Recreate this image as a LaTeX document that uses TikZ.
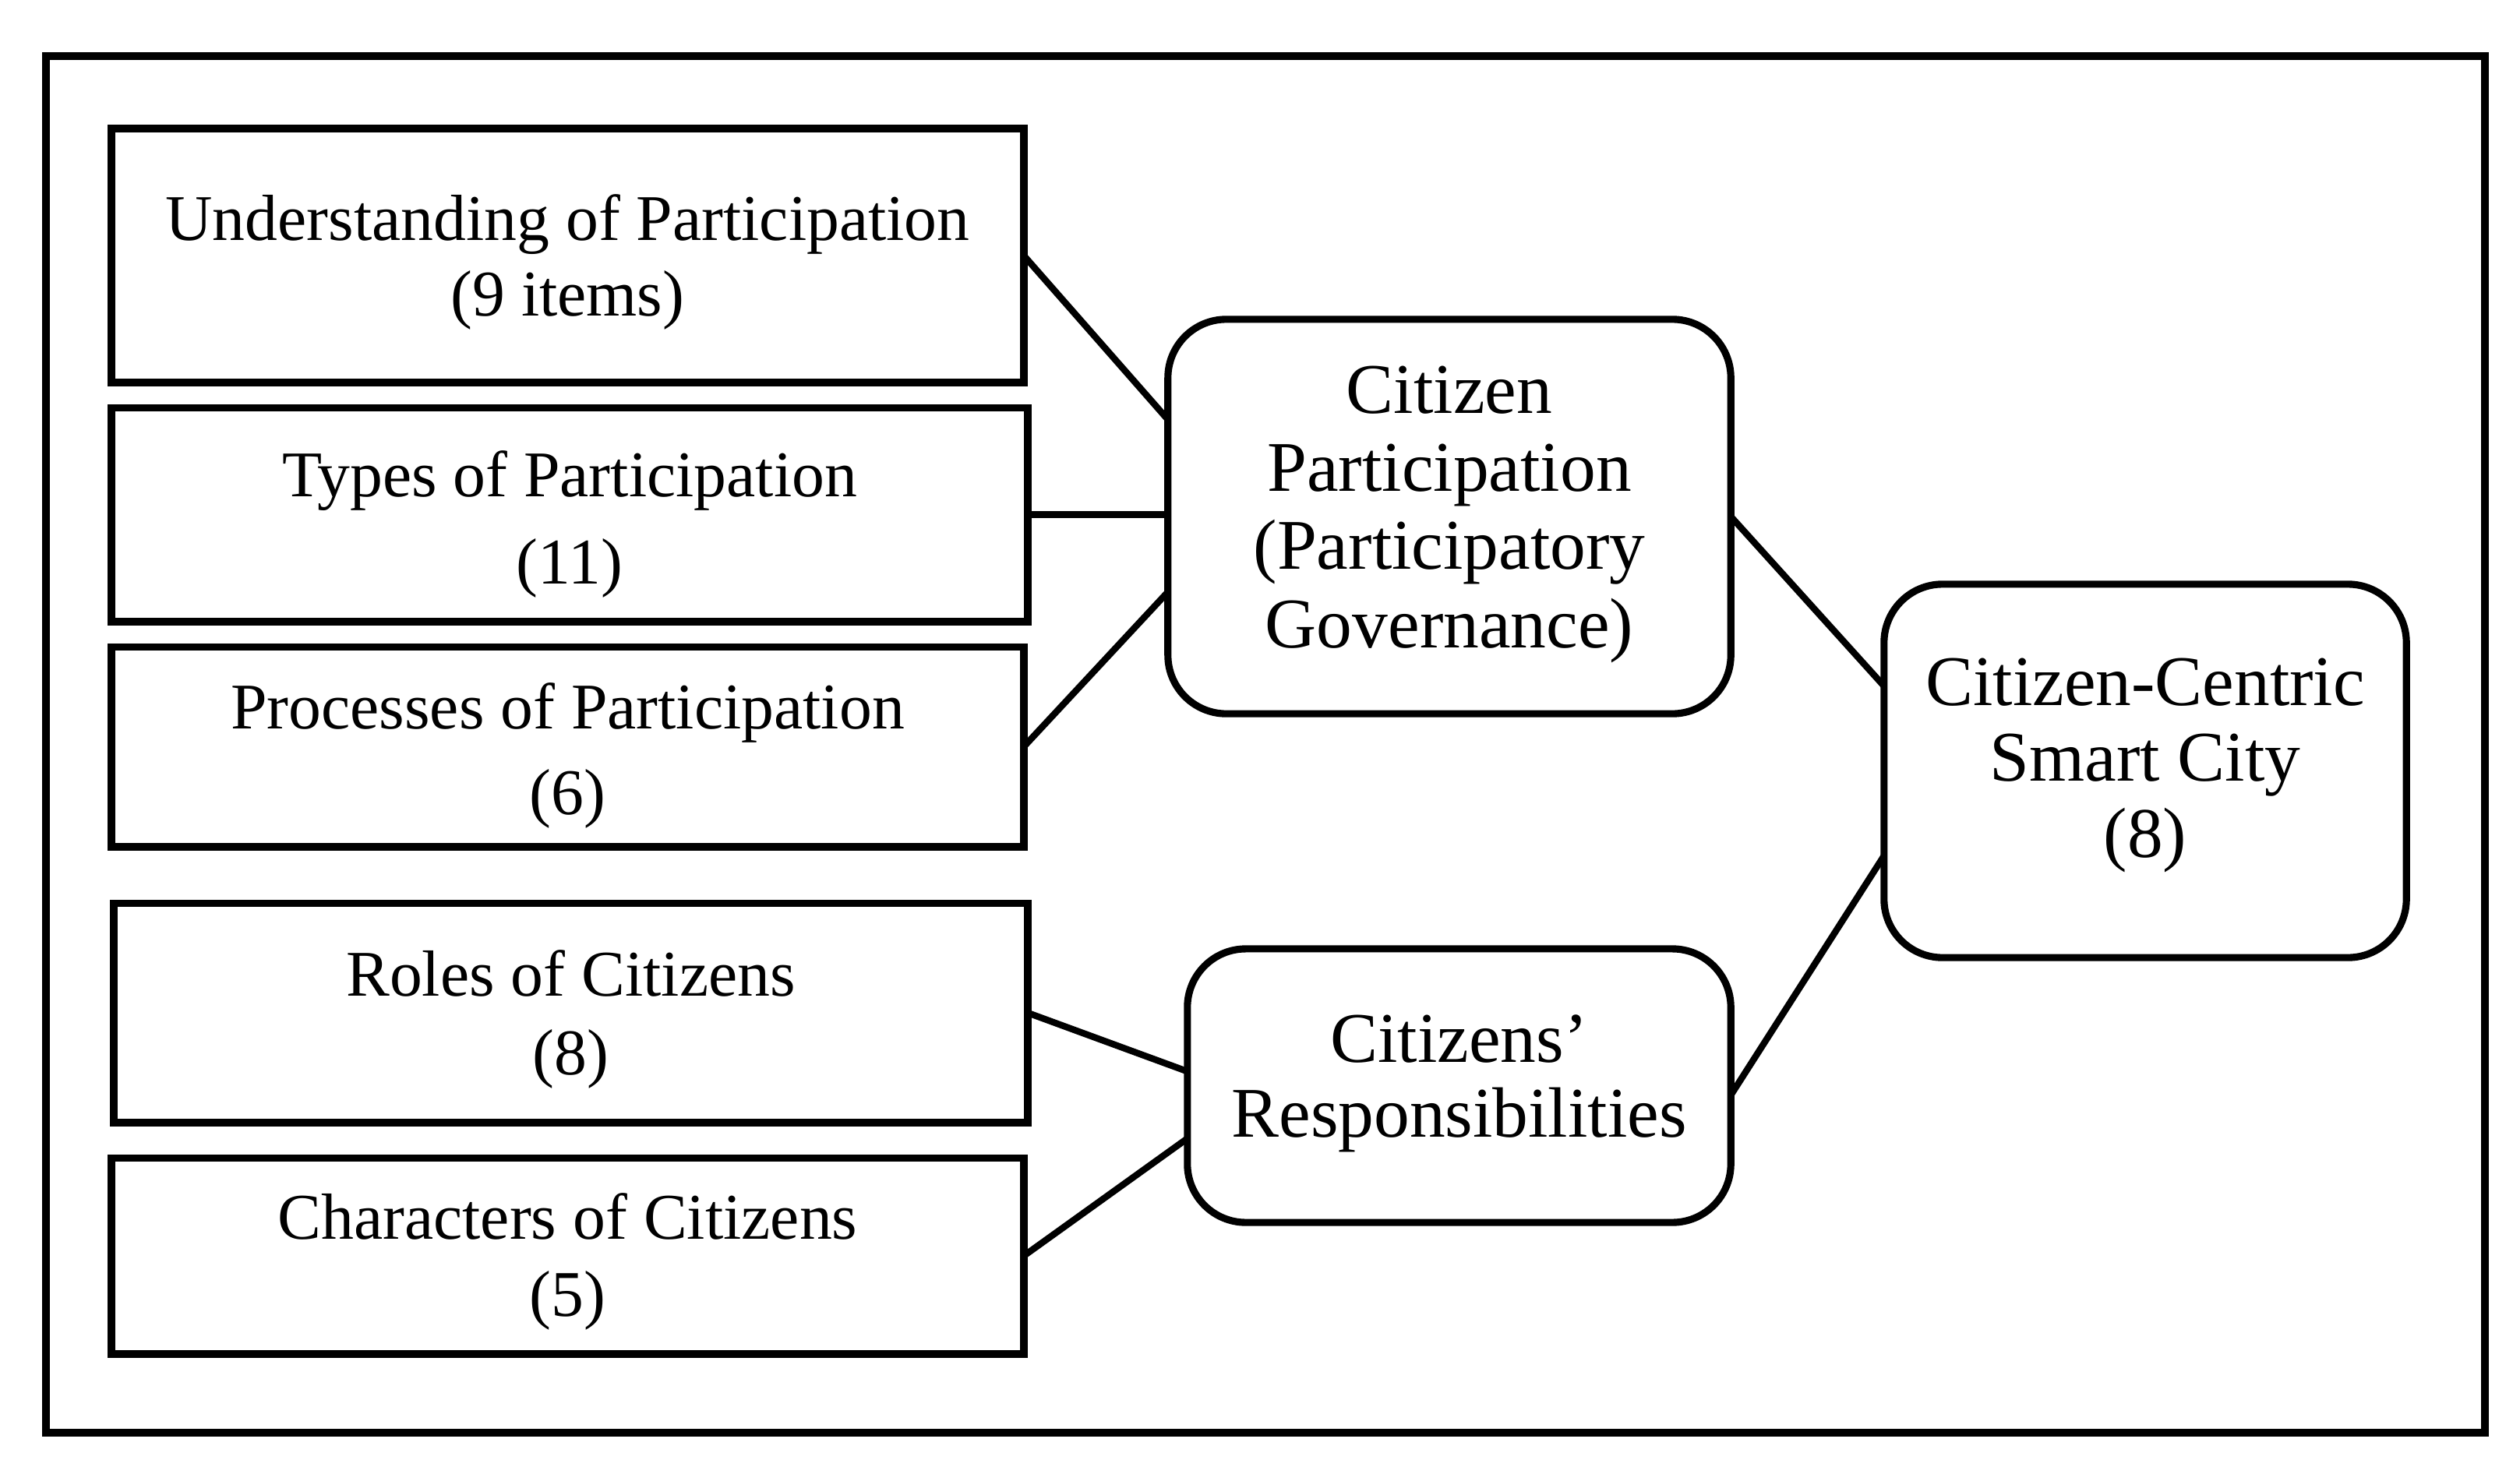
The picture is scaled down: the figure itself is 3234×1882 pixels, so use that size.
\documentclass[tikz,border=0pt]{standalone}
\usepackage{fontspec}
\setmainfont{Liberation Serif}
\begin{document}
\begin{tikzpicture}[x=0.01cm,y=-0.01cm,
  sqbox/.style={draw, line width=2.8pt, rectangle, inner sep=0pt, outer sep=0pt},
  rbox/.style={draw, line width=2.6pt, rectangle, rounded corners=0.75cm, inner sep=0pt, outer sep=0pt},
  conn/.style={line width=2.4pt},
  txt/.style={anchor=base, align=center, inner sep=0pt},
  frame/.style={draw, line width=2.8pt}]
\useasboundingbox (0,0) rectangle (3234,1882);
\draw[frame] (59,72) rectangle (3189,1839);

\node[sqbox, minimum width=11.70cm, minimum height=3.25cm] (b1) at (728.5,328) {};
\node[sqbox, minimum width=11.75cm, minimum height=2.74cm] (b2) at (731,660.5) {};
\node[sqbox, minimum width=11.70cm, minimum height=2.56cm] (b3) at (728.5,958.5) {};
\node[sqbox, minimum width=11.72cm, minimum height=2.81cm] (b4) at (732.5,1300) {};
\node[sqbox, minimum width=11.70cm, minimum height=2.51cm] (b5) at (728.5,1612) {};
\node[rbox, minimum width=7.22cm, minimum height=5.06cm] (cp) at (1860,663) {};
\node[rbox, minimum width=6.97cm, minimum height=3.51cm] (cr) at (1872.5,1393.5) {};
\node[rbox, minimum width=6.70cm, minimum height=4.79cm] (cc) at (2753,989.5) {};

\node[txt, font=\fontsize{23.8pt}{27.3pt}\selectfont] (t1) at (728.5,405) {Understanding of Participation\\(9 items)};
\node[txt, font=\fontsize{23.8pt}{31.6pt}\selectfont] (t2) at (731,749) {Types of Participation\\(11)};
\node[txt, font=\fontsize{23.8pt}{31pt}\selectfont] (t3) at (728.5,1045) {Processes of Participation\\(6)};
\node[txt, font=\fontsize{23.8pt}{28.7pt}\selectfont] (t4) at (732.5,1379) {Roles of Citizens\\(8)};
\node[txt, font=\fontsize{23.8pt}{27.9pt}\selectfont] (t5) at (728.5,1689) {Characters of Citizens\\(5)};
\node[txt, font=\fontsize{26pt}{28.5pt}\selectfont] (tcp) at (1860,831) {Citizen\\Participation\\(Participatory\\Governance)};
\node[txt, font=\fontsize{26pt}{27.3pt}\selectfont] (tcr) at (1872.5,1459) {Citizens’\\Responsibilities};
\node[txt, font=\fontsize{26pt}{27.6pt}\selectfont] (tcc) at (2753,1100) {Citizen-Centric\\Smart City\\(8)};

\draw[conn] (b1.east) -- (cp.161);
\draw[conn] (b2.east) -- (b2.east -| cp.west);
\draw[conn] (b3.east) -- (cp.195);
\draw[conn] (cp.east) -- (cc.162);
\draw[conn] (cr.-2) -- (cc.198);
\draw[conn] (b4.east) -- (cr.177);
\draw[conn] (b5.east) -- (cr.191.5);
\end{tikzpicture}
\end{document}
